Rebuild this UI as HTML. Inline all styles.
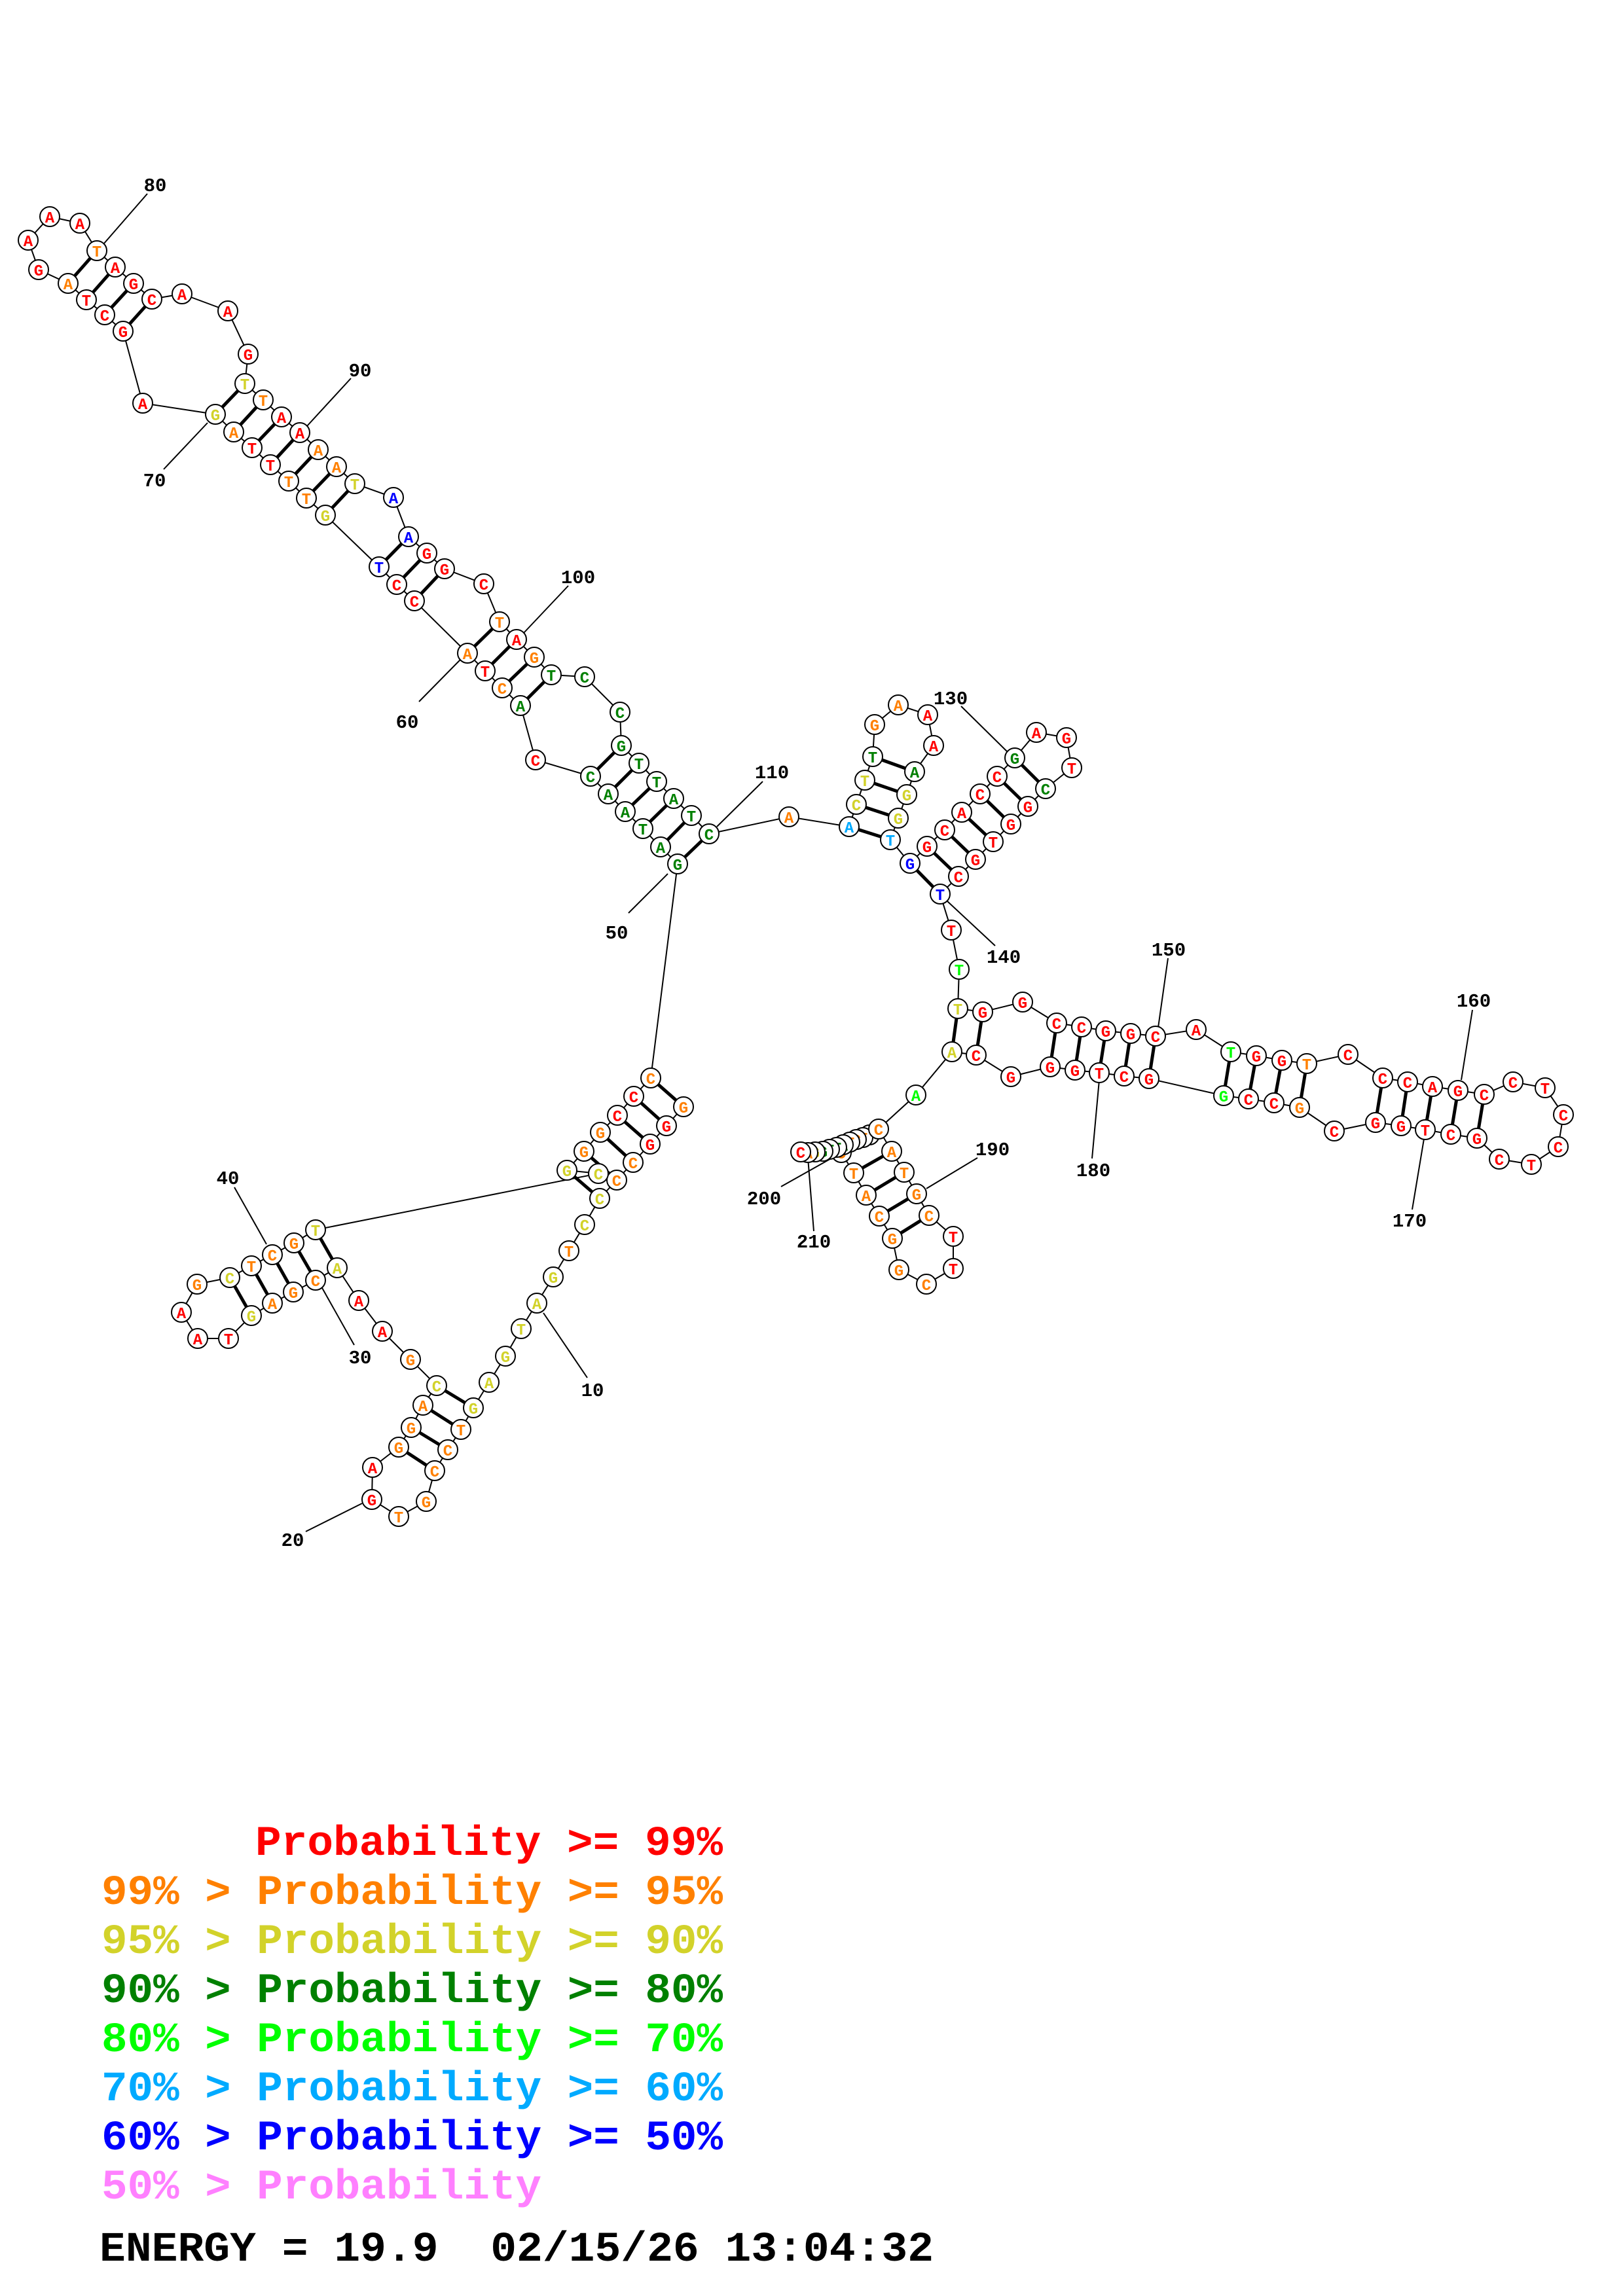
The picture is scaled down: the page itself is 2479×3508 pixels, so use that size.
<!DOCTYPE html>
<html><head><meta charset="utf-8"><style>
html,body{margin:0;padding:0;background:#fff}
svg{display:block}
circle{fill:#fff;stroke:#000;stroke-width:2;r:15px}
text.n{font:bold 24px "Liberation Mono",monospace;text-anchor:middle;transform:translateY(1px)}
text.lb{font:bold 29px "Liberation Mono",monospace;text-anchor:middle;fill:#000}
text.lg{font:bold 64px "Liberation Mono",monospace}
.r{fill:#ff0000}.o{fill:#ff8000}.y{fill:#d2d22a}.g{fill:#008000}.l{fill:#00ff00}.c{fill:#00aaff}.b{fill:#0000ff}.p{fill:#ff80ff}.k{fill:#000}
.bb{fill:none;stroke:#000;stroke-width:2}
.pr line{stroke:#000;stroke-width:5}
.ll line{stroke:#000;stroke-width:2}
</style></head><body>
<svg xmlns="http://www.w3.org/2000/svg" width="2479" height="3508" viewBox="0 0 2479 3508">
<rect width="2479" height="3508" fill="#fff"/>
<polyline class="bb" points="1044,1691 1018,1720 993,1748 967,1776 942,1803 916,1831 893,1871 869,1911 845,1951 820,1991 796,2030 772,2072 747,2112 723,2151 704,2184 684,2215 664,2247 651,2294 609,2317 568,2291 569,2242 609,2211 628,2181 646,2147 667,2117 627,2077 584,2034 548,1987 515,1937 482,1956 448,1974 416,1991 384,2010 349,2045 302,2045 277,2005 301,1962 351,1952 384,1934 416,1917 449,1899 482,1879 914,1793 866,1788 892,1759 917,1730 943,1704 968,1675 994,1647 1035,1320 1009,1294 982,1266 955,1240 929,1213 902,1186 818,1161 795,1078 767,1051 741,1025 714,998 633,918 606,893 579,866 497,787 468,761 441,735 413,710 385,684 357,660 329,633 218,616 188,506 160,481 132,458 104,433 59,412 43,367 76,331 122,341 148,383 176,408 204,433 232,457 278,449 348,475 379,541 374,586 402,611 430,637 458,661 486,687 514,713 542,739 601,760 624,820 652,845 679,869 739,892 763,950 789,977 816,1004 842,1031 893,1034 947,1088 949,1139 976,1166 1003,1194 1029,1220 1056,1246 1083,1274 1205,1248 1297,1263 1308,1229 1321,1192 1333,1156 1336,1107 1372,1077 1417,1092 1426,1139 1397,1179 1385,1214 1372,1250 1360,1283 1390,1319 1416,1293 1443,1268 1469,1241 1497,1213 1523,1186 1550,1158 1583,1119 1629,1127 1637,1173 1597,1205 1570,1232 1544,1259 1517,1286 1490,1313 1464,1339 1436,1366 1453,1421 1465,1481 1463,1541 1501,1546 1562,1531 1614,1563 1652,1569 1689,1575 1727,1579 1765,1583 1827,1573 1880,1607 1919,1613 1958,1620 1996,1625 2059,1611 2112,1647 2150,1653 2188,1660 2227,1666 2267,1672 2311,1653 2360,1662 2388,1703 2380,1752 2339,1779 2290,1771 2256,1739 2216,1733 2177,1726 2140,1720 2101,1715 2038,1728 1985,1692 1946,1685 1907,1679 1869,1674 1755,1648 1717,1644 1679,1639 1642,1635 1604,1630 1544,1645 1491,1612 1454,1607 1399,1673 1342,1725 1362,1759 1381,1791 1400,1824 1419,1857 1456,1889 1456,1938 1415,1962 1373,1940 1363,1892 1343,1858 1323,1826 1304,1792 1285,1761 1328,1734 1318,1738 1308,1741 1298,1745 1288,1749 1278,1753 1267,1756 1257,1759 1245,1760 1234,1761 1223,1760"/>
<g class="pr">
<line x1="1044" y1="1691" x2="994" y2="1647"/><line x1="1018" y1="1720" x2="968" y2="1675"/><line x1="993" y1="1748" x2="943" y2="1704"/><line x1="967" y1="1776" x2="917" y2="1730"/><line x1="942" y1="1803" x2="892" y2="1759"/><line x1="916" y1="1831" x2="866" y2="1788"/>
<line x1="723" y1="2151" x2="667" y2="2117"/><line x1="704" y1="2184" x2="646" y2="2147"/><line x1="684" y1="2215" x2="628" y2="2181"/><line x1="664" y1="2247" x2="609" y2="2211"/>
<line x1="515" y1="1937" x2="482" y2="1879"/><line x1="482" y1="1956" x2="449" y2="1899"/><line x1="448" y1="1974" x2="416" y2="1917"/><line x1="416" y1="1991" x2="384" y2="1934"/><line x1="384" y1="2010" x2="351" y2="1952"/>
<line x1="1035" y1="1320" x2="1083" y2="1274"/><line x1="1009" y1="1294" x2="1056" y2="1246"/><line x1="982" y1="1266" x2="1029" y2="1220"/><line x1="955" y1="1240" x2="1003" y2="1194"/><line x1="929" y1="1213" x2="976" y2="1166"/><line x1="902" y1="1186" x2="949" y2="1139"/>
<line x1="795" y1="1078" x2="842" y2="1031"/><line x1="767" y1="1051" x2="816" y2="1004"/><line x1="741" y1="1025" x2="789" y2="977"/><line x1="714" y1="998" x2="763" y2="950"/>
<line x1="633" y1="918" x2="679" y2="869"/><line x1="606" y1="893" x2="652" y2="845"/><line x1="579" y1="866" x2="624" y2="820"/>
<line x1="497" y1="787" x2="542" y2="739"/><line x1="468" y1="761" x2="514" y2="713"/><line x1="441" y1="735" x2="486" y2="687"/><line x1="413" y1="710" x2="458" y2="661"/><line x1="385" y1="684" x2="430" y2="637"/><line x1="357" y1="660" x2="402" y2="611"/><line x1="329" y1="633" x2="374" y2="586"/>
<line x1="188" y1="506" x2="232" y2="457"/><line x1="160" y1="481" x2="204" y2="433"/><line x1="132" y1="458" x2="176" y2="408"/><line x1="104" y1="433" x2="148" y2="383"/>
<line x1="1297" y1="1263" x2="1360" y2="1283"/><line x1="1308" y1="1229" x2="1372" y2="1250"/><line x1="1321" y1="1192" x2="1385" y2="1214"/><line x1="1333" y1="1156" x2="1397" y2="1179"/>
<line x1="1390" y1="1319" x2="1436" y2="1366"/><line x1="1416" y1="1293" x2="1464" y2="1339"/><line x1="1443" y1="1268" x2="1490" y2="1313"/><line x1="1469" y1="1241" x2="1517" y2="1286"/><line x1="1497" y1="1213" x2="1544" y2="1259"/><line x1="1523" y1="1186" x2="1570" y2="1232"/><line x1="1550" y1="1158" x2="1597" y2="1205"/>
<line x1="1463" y1="1541" x2="1454" y2="1607"/><line x1="1501" y1="1546" x2="1491" y2="1612"/><line x1="1614" y1="1563" x2="1604" y2="1630"/><line x1="1652" y1="1569" x2="1642" y2="1635"/><line x1="1689" y1="1575" x2="1679" y2="1639"/><line x1="1727" y1="1579" x2="1717" y2="1644"/><line x1="1765" y1="1583" x2="1755" y2="1648"/>
<line x1="1880" y1="1607" x2="1869" y2="1674"/><line x1="1919" y1="1613" x2="1907" y2="1679"/><line x1="1958" y1="1620" x2="1946" y2="1685"/><line x1="1996" y1="1625" x2="1985" y2="1692"/>
<line x1="2112" y1="1647" x2="2101" y2="1715"/><line x1="2150" y1="1653" x2="2140" y2="1720"/><line x1="2188" y1="1660" x2="2177" y2="1726"/><line x1="2227" y1="1666" x2="2216" y2="1733"/><line x1="2267" y1="1672" x2="2256" y2="1739"/>
<line x1="1362" y1="1759" x2="1304" y2="1792"/><line x1="1381" y1="1791" x2="1323" y2="1826"/><line x1="1400" y1="1824" x2="1343" y2="1858"/><line x1="1419" y1="1857" x2="1363" y2="1892"/>
</g>
<g class="ll">
<line x1="830" y1="2006" x2="897" y2="2105"/><line x1="553" y1="2297" x2="467" y2="2340"/><line x1="491" y1="1966" x2="541" y2="2055"/><line x1="358" y1="1814" x2="407" y2="1901"/>
<line x1="1020" y1="1335" x2="960" y2="1395"/><line x1="703" y1="1008" x2="640" y2="1072"/><line x1="317" y1="646" x2="250" y2="717"/><line x1="158" y1="373" x2="225" y2="296"/>
<line x1="468" y1="652" x2="536" y2="578"/><line x1="800" y1="967" x2="868" y2="895"/><line x1="1095" y1="1263" x2="1165" y2="1194"/><line x1="1468" y1="1079" x2="1539" y2="1149"/>
<line x1="1447" y1="1377" x2="1520" y2="1445"/><line x1="1784" y1="1464" x2="1769" y2="1570"/><line x1="2249" y1="1543" x2="2232" y2="1650"/><line x1="2157" y1="1848" x2="2175" y2="1740"/>
<line x1="1679" y1="1650" x2="1668" y2="1770"/><line x1="1415" y1="1816" x2="1493" y2="1769"/><line x1="1193" y1="1813" x2="1273" y2="1768"/><line x1="1243" y1="1881" x2="1234" y2="1769"/>
</g>
<g>
<circle cx="1044" cy="1691"/><text class="n o" x="1044" y="1699">G</text>
<circle cx="1018" cy="1720"/><text class="n r" x="1018" y="1728">G</text>
<circle cx="993" cy="1748"/><text class="n r" x="993" y="1756">G</text>
<circle cx="967" cy="1776"/><text class="n o" x="967" y="1784">C</text>
<circle cx="942" cy="1803"/><text class="n o" x="942" y="1811">C</text>
<circle cx="916" cy="1831"/><text class="n y" x="916" y="1839">C</text>
<circle cx="893" cy="1871"/><text class="n y" x="893" y="1879">C</text>
<circle cx="869" cy="1911"/><text class="n o" x="869" y="1919">T</text>
<circle cx="845" cy="1951"/><text class="n y" x="845" y="1959">G</text>
<circle cx="820" cy="1991"/><text class="n y" x="820" y="1999">A</text>
<circle cx="796" cy="2030"/><text class="n y" x="796" y="2038">T</text>
<circle cx="772" cy="2072"/><text class="n y" x="772" y="2080">G</text>
<circle cx="747" cy="2112"/><text class="n y" x="747" y="2120">A</text>
<circle cx="723" cy="2151"/><text class="n y" x="723" y="2159">G</text>
<circle cx="704" cy="2184"/><text class="n o" x="704" y="2192">T</text>
<circle cx="684" cy="2215"/><text class="n o" x="684" y="2223">C</text>
<circle cx="664" cy="2247"/><text class="n o" x="664" y="2255">C</text>
<circle cx="651" cy="2294"/><text class="n o" x="651" y="2302">G</text>
<circle cx="609" cy="2317"/><text class="n o" x="609" y="2325">T</text>
<circle cx="568" cy="2291"/><text class="n r" x="568" y="2299">G</text>
<circle cx="569" cy="2242"/><text class="n r" x="569" y="2250">A</text>
<circle cx="609" cy="2211"/><text class="n o" x="609" y="2219">G</text>
<circle cx="628" cy="2181"/><text class="n o" x="628" y="2189">G</text>
<circle cx="646" cy="2147"/><text class="n o" x="646" y="2155">A</text>
<circle cx="667" cy="2117"/><text class="n y" x="667" y="2125">C</text>
<circle cx="627" cy="2077"/><text class="n o" x="627" y="2085">G</text>
<circle cx="584" cy="2034"/><text class="n r" x="584" y="2042">A</text>
<circle cx="548" cy="1987"/><text class="n r" x="548" y="1995">A</text>
<circle cx="515" cy="1937"/><text class="n y" x="515" y="1945">A</text>
<circle cx="482" cy="1956"/><text class="n o" x="482" y="1964">C</text>
<circle cx="448" cy="1974"/><text class="n o" x="448" y="1982">G</text>
<circle cx="416" cy="1991"/><text class="n o" x="416" y="1999">A</text>
<circle cx="384" cy="2010"/><text class="n y" x="384" y="2018">G</text>
<circle cx="349" cy="2045"/><text class="n r" x="349" y="2053">T</text>
<circle cx="302" cy="2045"/><text class="n r" x="302" y="2053">A</text>
<circle cx="277" cy="2005"/><text class="n r" x="277" y="2013">A</text>
<circle cx="301" cy="1962"/><text class="n o" x="301" y="1970">G</text>
<circle cx="351" cy="1952"/><text class="n y" x="351" y="1960">C</text>
<circle cx="384" cy="1934"/><text class="n o" x="384" y="1942">T</text>
<circle cx="416" cy="1917"/><text class="n o" x="416" y="1925">C</text>
<circle cx="449" cy="1899"/><text class="n o" x="449" y="1907">G</text>
<circle cx="482" cy="1879"/><text class="n y" x="482" y="1887">T</text>
<circle cx="914" cy="1793"/><text class="n y" x="914" y="1801">C</text>
<circle cx="866" cy="1788"/><text class="n y" x="866" y="1796">G</text>
<circle cx="892" cy="1759"/><text class="n o" x="892" y="1767">G</text>
<circle cx="917" cy="1730"/><text class="n o" x="917" y="1738">G</text>
<circle cx="943" cy="1704"/><text class="n r" x="943" y="1712">C</text>
<circle cx="968" cy="1675"/><text class="n r" x="968" y="1683">C</text>
<circle cx="994" cy="1647"/><text class="n o" x="994" y="1655">C</text>
<circle cx="1035" cy="1320"/><text class="n g" x="1035" y="1328">G</text>
<circle cx="1009" cy="1294"/><text class="n g" x="1009" y="1302">A</text>
<circle cx="982" cy="1266"/><text class="n g" x="982" y="1274">T</text>
<circle cx="955" cy="1240"/><text class="n g" x="955" y="1248">A</text>
<circle cx="929" cy="1213"/><text class="n g" x="929" y="1221">A</text>
<circle cx="902" cy="1186"/><text class="n g" x="902" y="1194">C</text>
<circle cx="818" cy="1161"/><text class="n r" x="818" y="1169">C</text>
<circle cx="795" cy="1078"/><text class="n g" x="795" y="1086">A</text>
<circle cx="767" cy="1051"/><text class="n o" x="767" y="1059">C</text>
<circle cx="741" cy="1025"/><text class="n r" x="741" y="1033">T</text>
<circle cx="714" cy="998"/><text class="n o" x="714" y="1006">A</text>
<circle cx="633" cy="918"/><text class="n r" x="633" y="926">C</text>
<circle cx="606" cy="893"/><text class="n r" x="606" y="901">C</text>
<circle cx="579" cy="866"/><text class="n b" x="579" y="874">T</text>
<circle cx="497" cy="787"/><text class="n y" x="497" y="795">G</text>
<circle cx="468" cy="761"/><text class="n o" x="468" y="769">T</text>
<circle cx="441" cy="735"/><text class="n o" x="441" y="743">T</text>
<circle cx="413" cy="710"/><text class="n r" x="413" y="718">T</text>
<circle cx="385" cy="684"/><text class="n r" x="385" y="692">T</text>
<circle cx="357" cy="660"/><text class="n o" x="357" y="668">A</text>
<circle cx="329" cy="633"/><text class="n y" x="329" y="641">G</text>
<circle cx="218" cy="616"/><text class="n r" x="218" y="624">A</text>
<circle cx="188" cy="506"/><text class="n r" x="188" y="514">G</text>
<circle cx="160" cy="481"/><text class="n r" x="160" y="489">C</text>
<circle cx="132" cy="458"/><text class="n r" x="132" y="466">T</text>
<circle cx="104" cy="433"/><text class="n o" x="104" y="441">A</text>
<circle cx="59" cy="412"/><text class="n r" x="59" y="420">G</text>
<circle cx="43" cy="367"/><text class="n r" x="43" y="375">A</text>
<circle cx="76" cy="331"/><text class="n r" x="76" y="339">A</text>
<circle cx="122" cy="341"/><text class="n r" x="122" y="349">A</text>
<circle cx="148" cy="383"/><text class="n o" x="148" y="391">T</text>
<circle cx="176" cy="408"/><text class="n r" x="176" y="416">A</text>
<circle cx="204" cy="433"/><text class="n r" x="204" y="441">G</text>
<circle cx="232" cy="457"/><text class="n r" x="232" y="465">C</text>
<circle cx="278" cy="449"/><text class="n r" x="278" y="457">A</text>
<circle cx="348" cy="475"/><text class="n r" x="348" y="483">A</text>
<circle cx="379" cy="541"/><text class="n r" x="379" y="549">G</text>
<circle cx="374" cy="586"/><text class="n y" x="374" y="594">T</text>
<circle cx="402" cy="611"/><text class="n o" x="402" y="619">T</text>
<circle cx="430" cy="637"/><text class="n r" x="430" y="645">A</text>
<circle cx="458" cy="661"/><text class="n r" x="458" y="669">A</text>
<circle cx="486" cy="687"/><text class="n o" x="486" y="695">A</text>
<circle cx="514" cy="713"/><text class="n o" x="514" y="721">A</text>
<circle cx="542" cy="739"/><text class="n y" x="542" y="747">T</text>
<circle cx="601" cy="760"/><text class="n b" x="601" y="768">A</text>
<circle cx="624" cy="820"/><text class="n b" x="624" y="828">A</text>
<circle cx="652" cy="845"/><text class="n r" x="652" y="853">G</text>
<circle cx="679" cy="869"/><text class="n r" x="679" y="877">G</text>
<circle cx="739" cy="892"/><text class="n r" x="739" y="900">C</text>
<circle cx="763" cy="950"/><text class="n o" x="763" y="958">T</text>
<circle cx="789" cy="977"/><text class="n r" x="789" y="985">A</text>
<circle cx="816" cy="1004"/><text class="n o" x="816" y="1012">G</text>
<circle cx="842" cy="1031"/><text class="n g" x="842" y="1039">T</text>
<circle cx="893" cy="1034"/><text class="n g" x="893" y="1042">C</text>
<circle cx="947" cy="1088"/><text class="n g" x="947" y="1096">C</text>
<circle cx="949" cy="1139"/><text class="n g" x="949" y="1147">G</text>
<circle cx="976" cy="1166"/><text class="n g" x="976" y="1174">T</text>
<circle cx="1003" cy="1194"/><text class="n g" x="1003" y="1202">T</text>
<circle cx="1029" cy="1220"/><text class="n g" x="1029" y="1228">A</text>
<circle cx="1056" cy="1246"/><text class="n g" x="1056" y="1254">T</text>
<circle cx="1083" cy="1274"/><text class="n g" x="1083" y="1282">C</text>
<circle cx="1205" cy="1248"/><text class="n o" x="1205" y="1256">A</text>
<circle cx="1297" cy="1263"/><text class="n c" x="1297" y="1271">A</text>
<circle cx="1308" cy="1229"/><text class="n y" x="1308" y="1237">C</text>
<circle cx="1321" cy="1192"/><text class="n y" x="1321" y="1200">T</text>
<circle cx="1333" cy="1156"/><text class="n g" x="1333" y="1164">T</text>
<circle cx="1336" cy="1107"/><text class="n o" x="1336" y="1115">G</text>
<circle cx="1372" cy="1077"/><text class="n o" x="1372" y="1085">A</text>
<circle cx="1417" cy="1092"/><text class="n r" x="1417" y="1100">A</text>
<circle cx="1426" cy="1139"/><text class="n r" x="1426" y="1147">A</text>
<circle cx="1397" cy="1179"/><text class="n g" x="1397" y="1187">A</text>
<circle cx="1385" cy="1214"/><text class="n y" x="1385" y="1222">G</text>
<circle cx="1372" cy="1250"/><text class="n y" x="1372" y="1258">G</text>
<circle cx="1360" cy="1283"/><text class="n c" x="1360" y="1291">T</text>
<circle cx="1390" cy="1319"/><text class="n b" x="1390" y="1327">G</text>
<circle cx="1416" cy="1293"/><text class="n r" x="1416" y="1301">G</text>
<circle cx="1443" cy="1268"/><text class="n r" x="1443" y="1276">C</text>
<circle cx="1469" cy="1241"/><text class="n r" x="1469" y="1249">A</text>
<circle cx="1497" cy="1213"/><text class="n r" x="1497" y="1221">C</text>
<circle cx="1523" cy="1186"/><text class="n r" x="1523" y="1194">C</text>
<circle cx="1550" cy="1158"/><text class="n g" x="1550" y="1166">G</text>
<circle cx="1583" cy="1119"/><text class="n r" x="1583" y="1127">A</text>
<circle cx="1629" cy="1127"/><text class="n r" x="1629" y="1135">G</text>
<circle cx="1637" cy="1173"/><text class="n r" x="1637" y="1181">T</text>
<circle cx="1597" cy="1205"/><text class="n g" x="1597" y="1213">C</text>
<circle cx="1570" cy="1232"/><text class="n r" x="1570" y="1240">G</text>
<circle cx="1544" cy="1259"/><text class="n r" x="1544" y="1267">G</text>
<circle cx="1517" cy="1286"/><text class="n r" x="1517" y="1294">T</text>
<circle cx="1490" cy="1313"/><text class="n r" x="1490" y="1321">G</text>
<circle cx="1464" cy="1339"/><text class="n r" x="1464" y="1347">C</text>
<circle cx="1436" cy="1366"/><text class="n b" x="1436" y="1374">T</text>
<circle cx="1453" cy="1421"/><text class="n r" x="1453" y="1429">T</text>
<circle cx="1465" cy="1481"/><text class="n l" x="1465" y="1489">T</text>
<circle cx="1463" cy="1541"/><text class="n y" x="1463" y="1549">T</text>
<circle cx="1501" cy="1546"/><text class="n r" x="1501" y="1554">G</text>
<circle cx="1562" cy="1531"/><text class="n r" x="1562" y="1539">G</text>
<circle cx="1614" cy="1563"/><text class="n r" x="1614" y="1571">C</text>
<circle cx="1652" cy="1569"/><text class="n r" x="1652" y="1577">C</text>
<circle cx="1689" cy="1575"/><text class="n r" x="1689" y="1583">G</text>
<circle cx="1727" cy="1579"/><text class="n r" x="1727" y="1587">G</text>
<circle cx="1765" cy="1583"/><text class="n r" x="1765" y="1591">C</text>
<circle cx="1827" cy="1573"/><text class="n r" x="1827" y="1581">A</text>
<circle cx="1880" cy="1607"/><text class="n l" x="1880" y="1615">T</text>
<circle cx="1919" cy="1613"/><text class="n r" x="1919" y="1621">G</text>
<circle cx="1958" cy="1620"/><text class="n r" x="1958" y="1628">G</text>
<circle cx="1996" cy="1625"/><text class="n o" x="1996" y="1633">T</text>
<circle cx="2059" cy="1611"/><text class="n r" x="2059" y="1619">C</text>
<circle cx="2112" cy="1647"/><text class="n r" x="2112" y="1655">C</text>
<circle cx="2150" cy="1653"/><text class="n r" x="2150" y="1661">C</text>
<circle cx="2188" cy="1660"/><text class="n r" x="2188" y="1668">A</text>
<circle cx="2227" cy="1666"/><text class="n r" x="2227" y="1674">G</text>
<circle cx="2267" cy="1672"/><text class="n r" x="2267" y="1680">C</text>
<circle cx="2311" cy="1653"/><text class="n r" x="2311" y="1661">C</text>
<circle cx="2360" cy="1662"/><text class="n r" x="2360" y="1670">T</text>
<circle cx="2388" cy="1703"/><text class="n r" x="2388" y="1711">C</text>
<circle cx="2380" cy="1752"/><text class="n r" x="2380" y="1760">C</text>
<circle cx="2339" cy="1779"/><text class="n r" x="2339" y="1787">T</text>
<circle cx="2290" cy="1771"/><text class="n r" x="2290" y="1779">C</text>
<circle cx="2256" cy="1739"/><text class="n r" x="2256" y="1747">G</text>
<circle cx="2216" cy="1733"/><text class="n r" x="2216" y="1741">C</text>
<circle cx="2177" cy="1726"/><text class="n r" x="2177" y="1734">T</text>
<circle cx="2140" cy="1720"/><text class="n r" x="2140" y="1728">G</text>
<circle cx="2101" cy="1715"/><text class="n r" x="2101" y="1723">G</text>
<circle cx="2038" cy="1728"/><text class="n r" x="2038" y="1736">C</text>
<circle cx="1985" cy="1692"/><text class="n o" x="1985" y="1700">G</text>
<circle cx="1946" cy="1685"/><text class="n r" x="1946" y="1693">C</text>
<circle cx="1907" cy="1679"/><text class="n r" x="1907" y="1687">C</text>
<circle cx="1869" cy="1674"/><text class="n l" x="1869" y="1682">G</text>
<circle cx="1755" cy="1648"/><text class="n r" x="1755" y="1656">G</text>
<circle cx="1717" cy="1644"/><text class="n r" x="1717" y="1652">C</text>
<circle cx="1679" cy="1639"/><text class="n r" x="1679" y="1647">T</text>
<circle cx="1642" cy="1635"/><text class="n r" x="1642" y="1643">G</text>
<circle cx="1604" cy="1630"/><text class="n r" x="1604" y="1638">G</text>
<circle cx="1544" cy="1645"/><text class="n r" x="1544" y="1653">G</text>
<circle cx="1491" cy="1612"/><text class="n r" x="1491" y="1620">C</text>
<circle cx="1454" cy="1607"/><text class="n y" x="1454" y="1615">A</text>
<circle cx="1399" cy="1673"/><text class="n l" x="1399" y="1681">A</text>
<circle cx="1362" cy="1759"/><text class="n o" x="1362" y="1767">A</text>
<circle cx="1381" cy="1791"/><text class="n o" x="1381" y="1799">T</text>
<circle cx="1400" cy="1824"/><text class="n o" x="1400" y="1832">G</text>
<circle cx="1419" cy="1857"/><text class="n o" x="1419" y="1865">C</text>
<circle cx="1456" cy="1889"/><text class="n r" x="1456" y="1897">T</text>
<circle cx="1456" cy="1938"/><text class="n r" x="1456" y="1946">T</text>
<circle cx="1415" cy="1962"/><text class="n o" x="1415" y="1970">C</text>
<circle cx="1373" cy="1940"/><text class="n o" x="1373" y="1948">G</text>
<circle cx="1363" cy="1892"/><text class="n o" x="1363" y="1900">G</text>
<circle cx="1343" cy="1858"/><text class="n o" x="1343" y="1866">C</text>
<circle cx="1323" cy="1826"/><text class="n o" x="1323" y="1834">A</text>
<circle cx="1304" cy="1792"/><text class="n o" x="1304" y="1800">T</text>
<circle cx="1285" cy="1761"/><text class="n o" x="1285" y="1769">C</text>
<circle cx="1328" cy="1734"/><text class="n o" x="1328" y="1742">C</text>
<circle cx="1318" cy="1738"/><text class="n o" x="1318" y="1746">T</text>
<circle cx="1308" cy="1741"/><text class="n o" x="1308" y="1749">C</text>
<circle cx="1298" cy="1745"/><text class="n o" x="1298" y="1753">T</text>
<circle cx="1288" cy="1749"/><text class="n g" x="1288" y="1757">A</text>
<circle cx="1278" cy="1753"/><text class="n g" x="1278" y="1761">T</text>
<circle cx="1267" cy="1756"/><text class="n g" x="1267" y="1764">T</text>
<circle cx="1257" cy="1759"/><text class="n g" x="1257" y="1767">G</text>
<circle cx="1245" cy="1760"/><text class="n y" x="1245" y="1768">G</text>
<circle cx="1234" cy="1761"/><text class="n o" x="1234" y="1769">A</text>
<circle cx="1223" cy="1760"/><text class="n r" x="1223" y="1768">C</text>
<circle cx="1342" cy="1725"/><text class="n o" x="1342" y="1733">C</text>
</g>
<g>
<text class="lb" x="905" y="2133">10</text>
<text class="lb" x="447" y="2362">20</text>
<text class="lb" x="550" y="2083">30</text>
<text class="lb" x="348" y="1809">40</text>
<text class="lb" x="942" y="1434">50</text>
<text class="lb" x="622" y="1112">60</text>
<text class="lb" x="236" y="743">70</text>
<text class="lb" x="237" y="292">80</text>
<text class="lb" x="550" y="575">90</text>
<text class="lb" x="883" y="891">100</text>
<text class="lb" x="1179" y="1189">110</text>
<text class="lb" x="1452" y="1076">130</text>
<text class="lb" x="1533" y="1471">140</text>
<text class="lb" x="1785" y="1460">150</text>
<text class="lb" x="2251" y="1538">160</text>
<text class="lb" x="2153" y="1874">170</text>
<text class="lb" x="1670" y="1797">180</text>
<text class="lb" x="1516" y="1765">190</text>
<text class="lb" x="1167" y="1840">200</text>
<text class="lb" x="1243" y="1906">210</text>
</g>
<g>
<text class="lg r" x="390" y="2834" textLength="714" lengthAdjust="spacingAndGlyphs">Probability &gt;= 99%</text>
<text class="lg o" x="155" y="2909" textLength="949" lengthAdjust="spacingAndGlyphs">99% &gt; Probability &gt;= 95%</text>
<text class="lg y" x="155" y="2984" textLength="949" lengthAdjust="spacingAndGlyphs">95% &gt; Probability &gt;= 90%</text>
<text class="lg g" x="155" y="3059" textLength="949" lengthAdjust="spacingAndGlyphs">90% &gt; Probability &gt;= 80%</text>
<text class="lg l" x="155" y="3134" textLength="949" lengthAdjust="spacingAndGlyphs">80% &gt; Probability &gt;= 70%</text>
<text class="lg c" x="155" y="3209" textLength="949" lengthAdjust="spacingAndGlyphs">70% &gt; Probability &gt;= 60%</text>
<text class="lg b" x="155" y="3284" textLength="949" lengthAdjust="spacingAndGlyphs">60% &gt; Probability &gt;= 50%</text>
<text class="lg p" x="155" y="3359" textLength="672" lengthAdjust="spacingAndGlyphs">50% &gt; Probability</text>
<text class="lg k" x="152" y="3454" textLength="1274" lengthAdjust="spacingAndGlyphs" xml:space="preserve">ENERGY = 19.9  02/15/26 13:04:32</text>
</g>
</svg>
</body></html>
